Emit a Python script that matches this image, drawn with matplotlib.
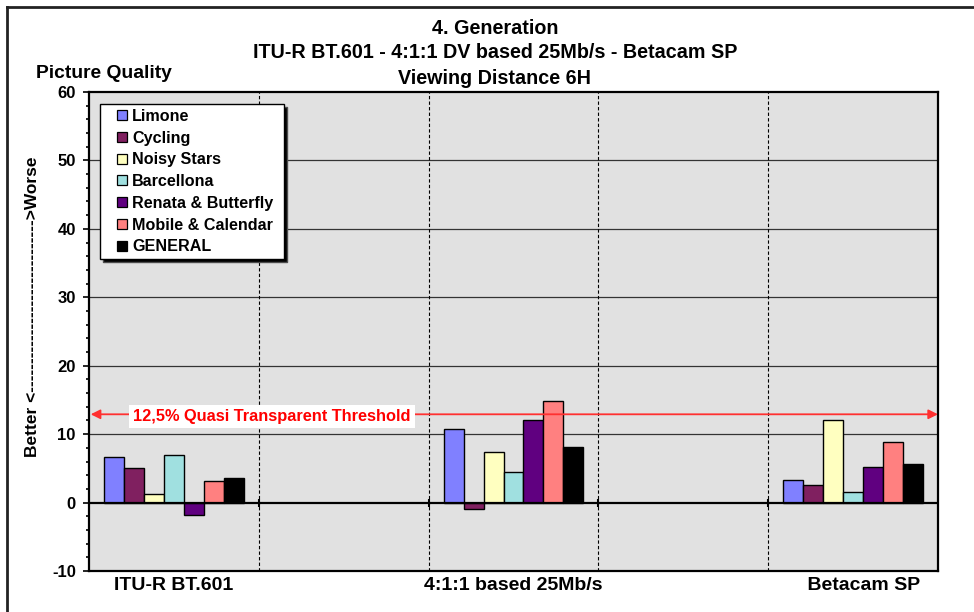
import numpy as np
import matplotlib
matplotlib.use("Agg")
import matplotlib.pyplot as plt
from matplotlib.lines import Line2D
from matplotlib.ticker import MultipleLocator

plt.rcParams['font.family'] = ['Liberation Sans', 'DejaVu Sans']
plt.rcParams['font.weight'] = 'bold'
plt.rcParams['axes.unicode_minus'] = False

# data (gaps are empty categories between the groups)
categories = ["ITU-R BT.601", "", "4:1:1 based 25Mb/s", "", "    Betacam SP"]
series_names = ["Limone", "Cycling", "Noisy Stars", "Barcellona",
                "Renata & Butterfly", "Mobile & Calendar", "GENERAL"]
limone = [6.6, np.nan, 10.8, np.nan, 3.3]
cycling = [5.1, np.nan, -1.0, np.nan, 2.6]
noisy_stars = [1.3, np.nan, 7.4, np.nan, 12.1]
barcellona = [6.9, np.nan, 4.5, np.nan, 1.6]
renata = [-1.8, np.nan, 12.1, np.nan, 5.2]
mobile = [3.1, np.nan, 14.9, np.nan, 8.8]
general = [3.6, np.nan, 8.1, np.nan, 5.6]
threshold = 12.9
threshold_label = "12,5% Quasi Transparent Threshold"

colors = ["#8080FF", "#802060", "#FFFFC0", "#A0E0E0", "#600080", "#FF8080", "#000000"]
all_values = [limone, cycling, noisy_stars, barcellona, renata, mobile, general]

W, H = 974, 612
fig = plt.figure(figsize=(W / 100, H / 100), dpi=100)
ax = fig.add_axes([89 / W, 1 - 571 / H, (938 - 89) / W, (571 - 92) / H])
ax.set_facecolor("#E1E1E1")

x = np.arange(len(categories))
bw = 20 / 170
for i, (name, vals, c) in enumerate(zip(series_names, all_values, colors)):
    ax.bar(x + (i - 3) * bw, vals, width=bw, color=c, edgecolor="black",
           linewidth=1.0, label=name, zorder=3)

ax.set_xlim(-0.5, len(categories) - 0.5)
ax.set_ylim(-10, 60)

# grid
for yv in range(10, 60, 10):
    ax.axhline(yv, color="#333333", lw=0.9, zorder=1)
for xv in x[:-1] + 0.5:
    ax.axvline(xv, color="black", lw=0.8, ls=(0, (3, 2)), zorder=1)
ax.axhline(0, color="black", lw=1.6, zorder=4)
ax.plot(x[:-1] + 0.5, np.zeros(len(x) - 1), ls="none", marker="|", ms=6,
        mew=1.5, color="black", zorder=4)

ax.set_yticks(range(-10, 61, 10))
ax.yaxis.set_minor_locator(MultipleLocator(2))
ax.tick_params(axis="y", which="major", direction="out", length=4.5, width=1.2,
               labelsize=12, pad=5)
ax.tick_params(axis="y", which="minor", direction="out", length=2.5, width=1.2)
ax.set_xticks(x)
ax.set_xticklabels(categories)
ax.tick_params(axis="x", length=0, labelsize=14, pad=4)
for lbl in ax.get_xticklabels() + ax.get_yticklabels():
    lbl.set_fontweight("bold")
for sp in ax.spines.values():
    sp.set_linewidth(1.6)

# threshold line with arrows
ax.annotate("", xy=(-0.49, threshold), xytext=(4.5, threshold),
            arrowprops=dict(arrowstyle="<|-|>", color="#FF3030", lw=1.3,
                            mutation_scale=14, shrinkA=0, shrinkB=0), zorder=5)
ax.text(-0.241, 12.6, threshold_label, color="#FF0000", fontsize=11.75,
        fontweight="bold", va="center", ha="left", zorder=6,
        bbox=dict(facecolor="white", edgecolor="none", pad=3))

# legend with square markers
handles = [Line2D([], [], ls="none", marker="s", ms=6.5, markerfacecolor=c,
                  markeredgecolor="black", markeredgewidth=0.9)
           for c in colors]
leg = ax.legend(handles, series_names, loc="upper left",
                bbox_to_anchor=(100 / W, 1 - 260 / H, 184 / W, 156 / H),
                bbox_transform=fig.transFigure, mode="expand", borderaxespad=0,
                prop={"weight": "bold", "size": 11.6}, frameon=True,
                fancybox=False, edgecolor="black", framealpha=1,
                borderpad=0.3, labelspacing=0.42, handlelength=2.07,
                handletextpad=-0.38,
                shadow={"facecolor": "black", "alpha": 1})
leg.get_frame().set_linewidth(1.0)
leg.set_zorder(10)

# titles and labels
fig.text(495 / W, 1 - 29 / H, "4. Generation", ha="center", va="center",
         fontsize=14.2, fontweight="bold")
fig.text(495 / W, 1 - 53 / H, "ITU-R BT.601 - 4:1:1 DV based 25Mb/s - Betacam SP",
         ha="center", va="center", fontsize=14.2, fontweight="bold")
fig.text(495 / W, 1 - 78 / H, "Viewing Distance 6H", ha="center", va="center",
         fontsize=14.2, fontweight="bold")
fig.text(36 / W, 1 - 73 / H, "Picture Quality", ha="left", va="center",
         fontsize=13.9, fontweight="bold")
fig.text(33 / W, 1 - 307 / H, "Better <------------------------------>Worse",
         rotation=90, ha="center", va="center", fontsize=12.5, fontweight="bold")

# outer chart frame (top and left edges visible)
fig.add_artist(Line2D([7 / W, 1], [1 - 7 / H, 1 - 7 / H], color="#222222", lw=2))
fig.add_artist(Line2D([7 / W, 7 / W], [0, 1 - 7 / H], color="#222222", lw=2))

fig.savefig("out.png", dpi=100)
